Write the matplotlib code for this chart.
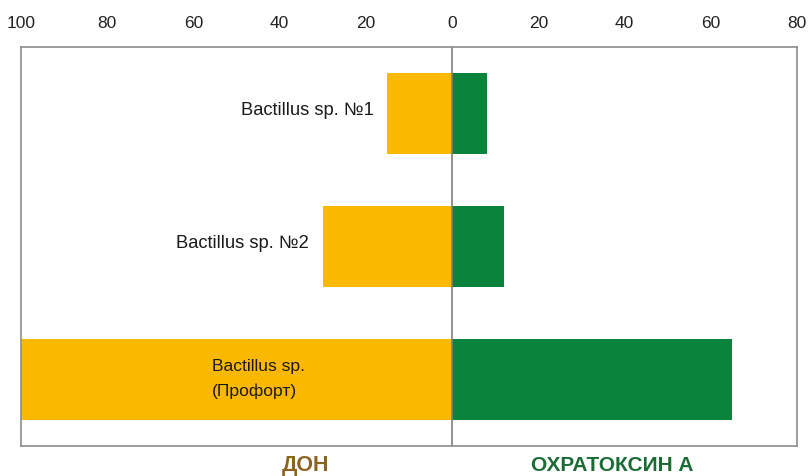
import matplotlib
matplotlib.use('Agg')
import matplotlib.pyplot as plt
from matplotlib.ticker import FuncFormatter

plt.rcParams['font.family'] = ['Liberation Sans', 'DejaVu Sans']

strains = ['Bactillus sp. №1', 'Bactillus sp. №2', 'Bactillus sp.\n(Профорт)']
don = [15, 30, 100]
ochra = [8, 12, 65]
ticks = [-100, -80, -60, -40, -20, 0, 20, 40, 60, 80]

yellow = '#FBB800'
green = '#0A843C'

fig = plt.figure(figsize=(8.09, 4.77), dpi=100)
ax = fig.add_axes([21 / 809, 1 - 447 / 477, (797 - 21) / 809, (447 - 48) / 477])

pos = list(range(len(strains)))
ax.barh(pos, [-v for v in don], height=0.615, color=yellow)
ax.barh(pos, ochra, height=0.615, color=green)
ax.axvline(0, color='#7f7f7f', lw=1.2)

ax.set_xlim(-100, 80)
ax.set_ylim(2.5, -0.5)
ax.set_xticks(ticks)
ax.xaxis.set_major_formatter(FuncFormatter(lambda v, p: f'{abs(int(v))}'))
ax.xaxis.tick_top()
ax.tick_params(axis='x', length=0, pad=12, labelsize=12.5, colors='#222222')
ax.set_yticks([])
for s in ax.spines.values():
    s.set_color('#8c8c8c')
    s.set_linewidth(1.2)

# strain labels
for i in range(2):
    ax.annotate(strains[i], (-don[i], i), xytext=(-10, 3), textcoords='offset points',
                ha='right', va='center', fontsize=13.2, color='#1a1a1a')
ax.text(-55.7, 1.99, strains[2], ha='left', va='center', fontsize=12.6,
        color='#1a1a1a', linespacing=1.75)

fig.text(306 / 809, 1 - 466 / 477, 'ДОН', ha='center', va='center',
         fontsize=15.5, fontweight='bold', color='#8B6420')
fig.text(612 / 809, 1 - 466 / 477, 'ОХРАТОКСИН А', ha='center', va='center',
         fontsize=15, fontweight='bold', color='#1B6B35')

fig.savefig('out.png', dpi=100)
